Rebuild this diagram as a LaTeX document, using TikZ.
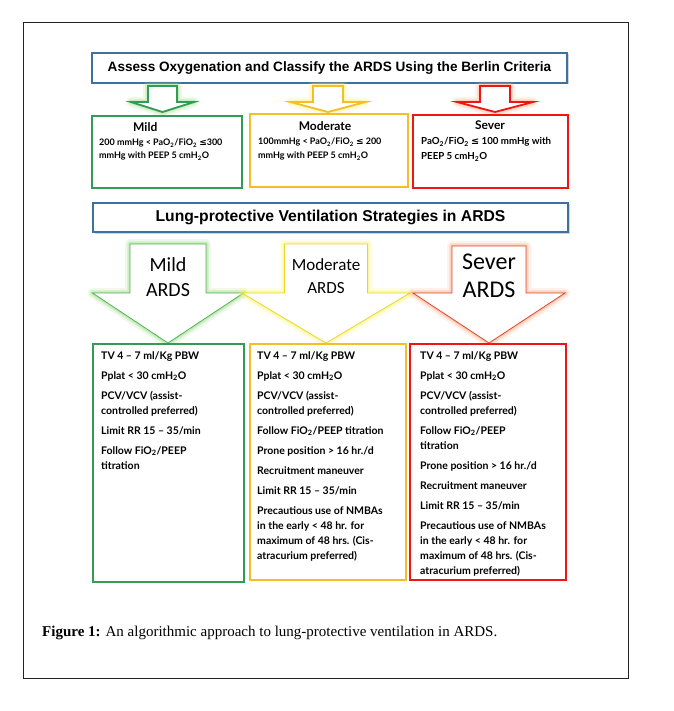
\documentclass[tikz,border=0pt]{standalone}
\usepackage{fontspec}
\setmainfont{Liberation Serif}
\newfontfamily\gillfont{Lato}
\newfontfamily\headfont{Liberation Sans}
\newfontfamily\calfont{Carlito}
\newfontfamily\dejavu{DejaVu Sans}
\usepackage{xcolor}
\usepackage{tikz}
\usetikzlibrary{shadows}

\definecolor{framegray}{RGB}{35,35,35}
\definecolor{titleblue}{RGB}{62,112,160}
\definecolor{mildgreen}{RGB}{50,155,85}
\definecolor{modgold}{RGB}{245,190,40}
\definecolor{sevred}{RGB}{240,20,20}
\definecolor{arrowgreen}{RGB}{80,180,95}
\definecolor{arrowyellow}{RGB}{235,215,40}
\definecolor{arrowred}{RGB}{225,70,50}
\definecolor{glowgreen}{RGB}{150,215,120}
\definecolor{glowyellow}{RGB}{250,240,110}
\definecolor{glowred}{RGB}{250,165,120}

\newcommand{\subtwo}{\textsubscript{2}}
\newcommand{\leqsym}{{\dejavu ≤}}

% block arrow: centre x, top y, shoulder y, tip y, shaft half, head half, line colour, glow colour, line width
\newcommand{\blockarrow}[9]{%
  \foreach \w/\o in {10/.15,6/.25,3/.35}
    \draw[#8, line width=\w pt, opacity=\o, line join=round]
      ({#1-#5},#2) -- ({#1+#5},#2) -- ({#1+#5},#3) -- ({#1+#6},#3) -- (#1,#4)
      -- ({#1-#6},#3) -- ({#1-#5},#3) -- cycle;
  \draw[#7, fill=white, line width=#9, line join=miter]
      ({#1-#5},#2) -- ({#1+#5},#2) -- ({#1+#5},#3) -- ({#1+#6},#3) -- (#1,#4)
      -- ({#1-#6},#3) -- ({#1-#5},#3) -- cycle;
}

\tikzset{
  titlebox/.style={draw=titleblue, line width=1.6pt, fill=white, minimum width=475pt,
    minimum height=30pt, inner sep=0pt,
    drop shadow={shadow xshift=1.5pt, shadow yshift=-1.5pt, opacity=.35}},
  classbox/.style={draw=#1, line width=1.6pt, fill=white, inner sep=0pt},
  classhead/.style={font=\gillfont\bfseries\fontsize{12}{14}\selectfont, inner sep=0pt},
  classtext/.style={font=\gillfont\bfseries\fontsize{9}{13}\selectfont, align=left,
    anchor=north west, inner sep=0pt},
  arrowtext/.style={font=\calfont, align=center, inner sep=0pt},
  listtext/.style={font=\gillfont\bfseries\fontsize{10.5}{15}\selectfont, align=left,
    anchor=north west, inner sep=0pt}
}

\begin{document}
\begin{tikzpicture}[x=1pt, y=-1pt]
    \useasboundingbox (0,0) rectangle (673,711);

    % Outer frame
    \draw[framegray, line width=1pt] (23,23) rectangle (628,678);

    % Assess oxygenation
    \node[titlebox, font=\headfont\bfseries\fontsize{13.6}{15}\selectfont] (assess) at (329.5,68)
        {Assess Oxygenation and Classify the ARDS Using the Berlin Criteria};

    \blockarrow{162.5}{86}{102}{112}{14.5}{31.5}{mildgreen}{glowgreen}{1.8pt}
    \blockarrow{328}{86}{102}{112}{15}{37.5}{modgold}{glowyellow}{1.8pt}
    \blockarrow{495}{86}{102}{112}{15}{38}{sevred}{glowred}{1.8pt}

    % Berlin classes
    \node[classbox=mildgreen, minimum width=150pt, minimum height=72pt] (mildclass) at (167,152) {};
    \node[classbox=modgold, minimum width=158pt, minimum height=73pt] (modclass) at (329,150.5) {};
    \node[classbox=sevred, minimum width=155pt, minimum height=73pt] (sevclass) at (490.5,151.5) {};

    \node[classhead, anchor=west] (mildhead) at (133,127) {Mild};
    \node[classhead] (modhead) at (325,126) {Moderate};
    \node[classhead] (sevhead) at (490,125) {Sever};

    \node[classtext] (mildcrit) at (99,139)
        {200 mmHg < PaO\subtwo/FiO\subtwo\ \leqsym300\\mmHg with PEEP 5 cmH\subtwo O};
    \node[classtext, font=\gillfont\bfseries\fontsize{9}{14}\selectfont] (modcrit) at (258,138)
        {100mmHg < PaO\subtwo/FiO\subtwo\ \leqsym\ 200\\mmHg with PEEP 5 cmH\subtwo O};
    \node[classtext, font=\gillfont\bfseries\fontsize{9.7}{15}\selectfont] (sevcrit) at (421,137.5)
        {PaO\subtwo/FiO\subtwo\ \leqsym\ 100 mmHg with\\PEEP 5 cmH\subtwo O};

    % Lung-protective strategies
    \node[titlebox, minimum height=29pt, font=\headfont\bfseries\fontsize{15.7}{17}\selectfont] (strategies) at (330.5,217.5)
        {Lung-protective Ventilation Strategies in ARDS};

    \blockarrow{168}{244}{293}{343}{38}{75.5}{arrowgreen}{glowgreen}{0.8pt}
    \blockarrow{326}{244}{293}{343}{41.5}{84}{arrowyellow}{glowyellow}{0.8pt}
    \blockarrow{489}{246}{293}{343}{37}{76}{arrowred}{glowred}{0.8pt}

    \node[arrowtext, font=\calfont\fontsize{20}{25}\selectfont] (mildarrow) at (168,277) {Mild\\ARDS};
    \node[arrowtext, font=\calfont\fontsize{17}{23}\selectfont] (modarrow) at (326,276) {Moderate\\ARDS};
    \node[arrowtext, font=\calfont\fontsize{24}{28}\selectfont] (sevarrow) at (489,276) {Sever\\ARDS};

    % Ventilation settings
    \node[classbox=mildgreen, minimum width=151pt, minimum height=238pt] (mildbox) at (168.5,463) {};
    \node[classbox=modgold, minimum width=156pt, minimum height=236pt] (modbox) at (328,462) {};
    \node[classbox=sevred, minimum width=156pt, minimum height=236pt] (sevbox) at (488,462) {};

    \node[listtext] (mildlist) at (101,351)
        {TV 4 – 7 ml/Kg PBW\\[5pt]
         Pplat < 30 cmH\subtwo O\\[5pt]
         PCV/VCV (assist-\\controlled preferred)\\[5pt]
         Limit RR 15 – 35/min\\[5pt]
         Follow FiO\subtwo/PEEP\\titration};
    \node[listtext] (modlist) at (257,351)
        {TV 4 – 7 ml/Kg PBW\\[5pt]
         Pplat < 30 cmH\subtwo O\\[5pt]
         PCV/VCV (assist-\\controlled preferred)\\[5pt]
         Follow FiO\subtwo/PEEP titration\\[5pt]
         Prone position > 16 hr./d\\[5pt]
         Recruitment maneuver\\[5pt]
         Limit RR 15 – 35/min\\[5pt]
         Precautious use of NMBAs\\in the early < 48 hr. for\\maximum of 48 hrs. (Cis-\\atracurium preferred)};
    \node[listtext] (sevlist) at (420,351)
        {TV 4 – 7 ml/Kg PBW\\[5pt]
         Pplat < 30 cmH\subtwo O\\[5pt]
         PCV/VCV (assist-\\controlled preferred)\\[5pt]
         Follow FiO\subtwo/PEEP\\titration\\[5pt]
         Prone position > 16 hr./d\\[5pt]
         Recruitment maneuver\\[5pt]
         Limit RR 15 – 35/min\\[5pt]
         Precautious use of NMBAs\\in the early < 48 hr. for\\maximum of 48 hrs. (Cis-\\atracurium preferred)};

    % Caption
    \node[anchor=west, inner sep=0pt, font=\fontsize{15}{18}\selectfont] (caption) at (42,633)
        {\textbf{Figure 1:} An algorithmic approach to lung-protective ventilation in ARDS.};
\end{tikzpicture}
\end{document}
